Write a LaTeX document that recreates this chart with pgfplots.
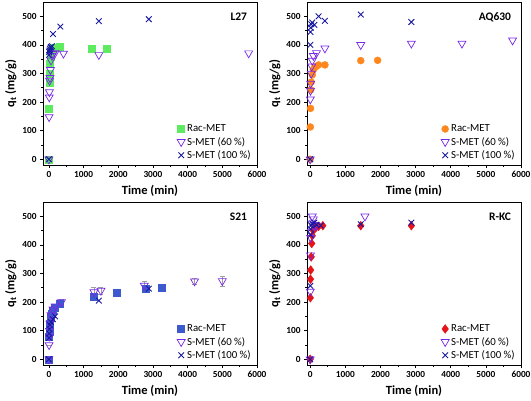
\documentclass[border=0pt]{standalone}
\usepackage{fontspec}
\setmainfont{Carlito}
\usepackage{pgfplots}
\pgfplotsset{compat=1.18}
\definecolor{cgreen}{RGB}{95,235,95}
\definecolor{corange}{RGB}{255,135,30}
\definecolor{cblue}{RGB}{60,90,205}
\definecolor{cred}{RGB}{228,20,25}
\definecolor{cviolet}{RGB}{120,40,230}
\definecolor{cnavy}{RGB}{25,25,160}
\tikzset{lab/.style={anchor=north east, font=\bfseries\fontsize{11.5}{13}\selectfont}}
\pgfplotsset{
 panel/.style={scale only axis, width=214pt, height=163pt,
  xmin=-170, xmax=6000, ymin=-20, ymax=550,
  xtick={0,1000,...,6000}, ytick={0,100,...,500},
  minor x tick num=1, minor y tick num=1,
  tick align=outside, xtick pos=bottom, ytick pos=left,
  major tick length=3pt, minor tick length=2pt,
  tick style={black, line width=0.6pt},
  axis line style={line width=0.8pt},
  tick label style={font=\bfseries\fontsize{9.3}{10}\selectfont},
  /pgf/number format/assume math mode=true,
  /pgf/number format/1000 sep={},
  xlabel={Time (min)}, ylabel={q\textsubscript{t} (mg/g)},
  label style={font=\bfseries\fontsize{12.5}{14}\selectfont},
  xlabel style={yshift=0pt},
  ylabel style={yshift=-1pt},
  legend style={at={(rel axis cs:0.995,0.005)}, anchor=south east, draw=none, fill=none,
    font=\fontsize{10.8}{11}\selectfont, row sep=0pt},
  legend image post style={xshift=-3pt},
  legend cell align=left,
  clip=false},
 rac/.style={only marks, mark size=3.5pt},
 sixty/.style={only marks, mark=triangle, mark size=4.6pt, color=cviolet, line width=0.7pt,
   every mark/.append style={rotate=180}},
 hundred/.style={only marks, mark=x, mark size=4pt, color=cnavy, line width=0.9pt},
 err/.style={error bars/.cd, y dir=both, y explicit,
   error bar style={gray!75, line width=0.5pt},
   error mark options={gray!75, mark size=2.5pt, rotate=90, line width=0.5pt}}
}
\begin{document}
\begin{tikzpicture}
\useasboundingbox (0,0) rectangle (531pt,400pt);
% ---------------- L27
\begin{axis}[panel, at={(43pt,235pt)}, anchor=south west]
\addplot[rac, mark=square*, color=cgreen] coordinates {
(0,0)(5,177)(10,267)(15,300)(30,335)(45,360)(60,372)(90,380)(120,386)(180,390)(300,392)(1230,387)(1680,387)};
\addplot[sixty] coordinates {
(0,0)(5,148)(10,217)(15,235)(20,275)(30,285)(45,313)(60,346)(90,362)(120,369)(180,372)(420,370)(1440,365)(5760,371)};
\addplot[hundred] coordinates {
(0,0)(5,365)(10,375)(15,380)(30,385)(45,390)(60,393)(90,395)(120,438)(330,464)(1440,483)(2880,490)};
\legend{Rac-MET, S-MET (60 \%), S-MET (100 \%)}
\node[lab] at (rel axis cs:0.97,0.955) {L27};
\end{axis}
% ---------------- AQ630
\begin{axis}[panel, xmin=-90, at={(307pt,235pt)}, anchor=south west]
\addplot[rac, mark=*, mark size=3.5pt, color=corange] coordinates {
(0,0)(5,113)(10,178)(15,243)(30,270)(60,295)(90,312)(120,320)(180,325)(240,330)(420,330)(1440,345)(1920,346)};
\addplot[sixty] coordinates {
(0,0)(5,210)(10,240)(15,265)(30,300)(45,325)(60,345)(90,362)(180,372)(420,388)(1440,400)(2880,405)(4320,405)(5760,416)};
\addplot[hundred] coordinates {
(0,0)(5,400)(10,445)(15,460)(30,472)(60,478)(120,470)(240,500)(420,484)(1440,506)(2880,480)};
\legend{Rac-MET, S-MET (60 \%), S-MET (100 \%)}
\node[lab] at (rel axis cs:0.97,0.955) {AQ630};
\end{axis}
% ---------------- S21
\begin{axis}[panel, at={(43pt,35pt)}, anchor=south west]
\addplot[rac, mark=square*, color=cblue, err] coordinates {
(0,0)+-(0,0) (5,80)+-(0,0) (10,95)+-(0,0) (15,110)+-(0,0) (30,125)+-(0,0) (60,145)+-(0,0) (90,160)+-(0,0) (120,170)+-(0,0) (180,180)+-(0,0) (300,195)+-(0,0) (1300,218)+-(0,8) (1950,234)+-(0,8) (2800,248)+-(0,10) (3250,251)+-(0,5)};
\addplot[sixty, err] coordinates {
(0,0)+-(0,0) (5,50)+-(0,0) (10,80)+-(0,5) (15,100)+-(0,5) (30,125)+-(0,6) (60,155)+-(0,6) (120,175)+-(0,6) (180,185)+-(0,8) (360,200)+-(0,10) (1300,235)+-(0,18) (1500,240)+-(0,12) (2750,258)+-(0,16) (4200,273)+-(0,10) (5000,274)+-(0,18)};
\addplot[hundred] coordinates {
(0,0)(5,75)(10,90)(15,105)(30,120)(60,130)(120,140)(180,150)(1440,205)(2880,247)};
\legend{Rac-MET, S-MET (60 \%), S-MET (100 \%)}
\node[lab] at (rel axis cs:0.97,0.955) {S21};
\end{axis}
% ---------------- R-KC
\begin{axis}[panel, xmin=-90, at={(307pt,35pt)}, anchor=south west]
\addplot[rac, mark=diamond*, mark size=4.4pt, color=cred] coordinates {
(0,0)(5,215)(10,280)(15,312)(30,358)(45,405)(60,432)(90,450)(120,460)(180,463)(240,465)(360,467)(1440,467)(2880,467)};
\addplot[sixty] coordinates {
(0,0)(5,237)(10,364)(15,425)(30,447)(45,476)(60,500)(90,490)(120,470)(180,468)(1560,500)};
\addplot[hundred] coordinates {
(0,0)(5,257)(10,435)(15,455)(30,468)(60,475)(120,478)(180,470)(300,468)(1440,472)(2880,478)};
\legend{Rac-MET, S-MET (60 \%), S-MET (100 \%)}
\node[lab] at (rel axis cs:0.97,0.955) {R-KC};
\end{axis}
\end{tikzpicture}
\end{document}
